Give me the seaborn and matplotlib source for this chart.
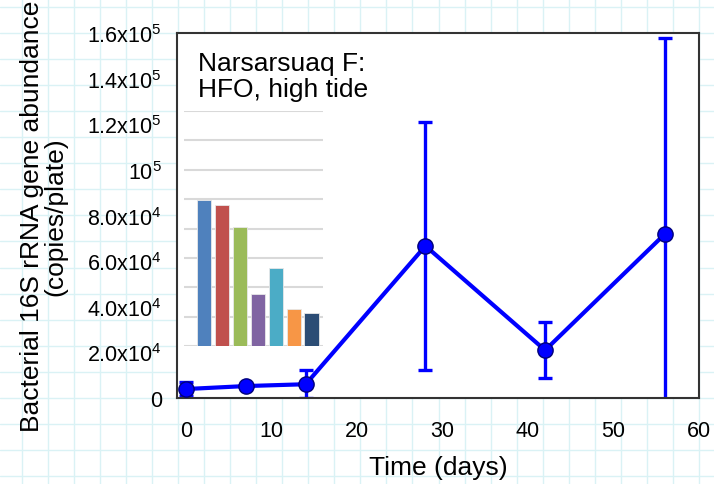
import numpy as np
import pandas as pd
import matplotlib
matplotlib.use("Agg")
import matplotlib.pyplot as plt
import seaborn as sns

# main series: time (days) vs abundance (copies/plate), with error bar half-widths
days = [0, 7, 14, 28, 42, 56]
abundance = [4000, 5300, 6100, 66700, 21000, 71900]
abundance_err = [3200, 0, 6200, 54500, 12300, 86000]

y_ticks = [0, 20000, 40000, 60000, 80000, 100000, 120000, 140000, 160000]
y_tick_labels = ['0', '2.0x10$^4$', '4.0x10$^4$', '6.0x10$^4$', '8.0x10$^4$',
                 '10$^5$', '1.2x10$^5$', '1.4x10$^5$', '1.6x10$^5$']
x_ticks = [0, 10, 20, 30, 40, 50, 60]

# small unlabeled bar chart pasted inside the plot
inset_cats = ['a', 'b', 'c', 'd', 'e', 'f', 'g']
inset_heights = [4.97, 4.8, 4.05, 1.77, 2.65, 1.26, 1.12]
inset_colors = ['#4F81BD', '#C0504D', '#9BBB59', '#8064A2', '#4BACC6', '#F79646', '#2C4D75']

sns.set_style('white')
plt.rcParams['font.family'] = ['Liberation Sans', 'DejaVu Sans']
plt.rcParams['mathtext.default'] = 'regular'
plt.rcParams['text.color'] = 'black'
plt.rcParams['axes.labelcolor'] = 'black'
plt.rcParams['xtick.color'] = 'black'
plt.rcParams['ytick.color'] = 'black'

fig = plt.figure(figsize=(7.14, 4.85), dpi=100)

# graph-paper background
bg = fig.add_axes([0, 0, 1, 1], zorder=0)
bg.set_xlim(0, 714)
bg.set_ylim(485, 0)
bg.set_xticks(np.arange(21.7, 714, 26.05))
bg.set_yticks(np.arange(8, 485, 26.05))
bg.grid(True, color='#daf2f5', linewidth=1)
bg.tick_params(length=0, labelbottom=False, labelleft=False)
for s in bg.spines.values():
    s.set_visible(False)

ax = fig.add_axes([0.248, 0.177, 0.731, 0.753], zorder=1)
ax.set_facecolor('white')

df = pd.DataFrame({'days': days, 'abundance': abundance})
sns.lineplot(data=df, x='days', y='abundance', ax=ax, color='#0000ff', linewidth=3.0,
             marker='o', markersize=11, markerfacecolor='#0000ff',
             markeredgecolor='#00007a', markeredgewidth=1.0, zorder=3)
ax.errorbar(days, abundance, yerr=abundance_err, fmt='none', ecolor='#0000ff',
            elinewidth=2.4, capsize=5, capthick=2.4, zorder=2)

ax.set_xlim(-1.05, 60)
ax.set_ylim(0, 160000)
ax.set_xticks(x_ticks)
ax.set_yticks(y_ticks)
ax.set_yticklabels(y_tick_labels)
ax.tick_params(axis='both', direction='out', length=5, width=1.3, color='#333333',
               labelsize=15.5, labelcolor='black')
ax.tick_params(axis='y', pad=6)
ax.tick_params(axis='x', pad=11)
for s in ax.spines.values():
    s.set_color('#333333')
    s.set_linewidth(1.5)

ax.set_xlabel('Time (days)', fontsize=19, labelpad=10, color='black')
ax.set_ylabel('Bacterial 16S rRNA gene abundance\n(copies/plate)', fontsize=19,
              labelpad=14, linespacing=1.0, color='black')
ax.text(0.04, 0.95, 'Narsarsuaq F:\nHFO, high tide', transform=ax.transAxes,
        fontsize=19, va='top', ha='left', linespacing=1.1, color='black')

# inset bar chart
ins = fig.add_axes([0.258, 0.2845, 0.195, 0.4845], zorder=2)
ins.set_facecolor('white')
sns.barplot(x=inset_cats, y=inset_heights, hue=inset_cats, palette=inset_colors,
            saturation=1, legend=False, width=0.79, ax=ins, edgecolor='#e8e8e8',
            linewidth=0.6, zorder=3)
ins.set_xlim(-1.12, 6.67)
ins.set_ylim(0, 8)
ins.set_yticks(np.arange(0, 9, 1))
ins.yaxis.grid(True, color='#d9d9d9', linewidth=1.5)
ins.set_axisbelow(True)
ins.tick_params(length=0, labelbottom=False, labelleft=False)
ins.set_xlabel('')
ins.set_ylabel('')
for s in ins.spines.values():
    s.set_visible(False)

fig.savefig('out.png', dpi=100)
